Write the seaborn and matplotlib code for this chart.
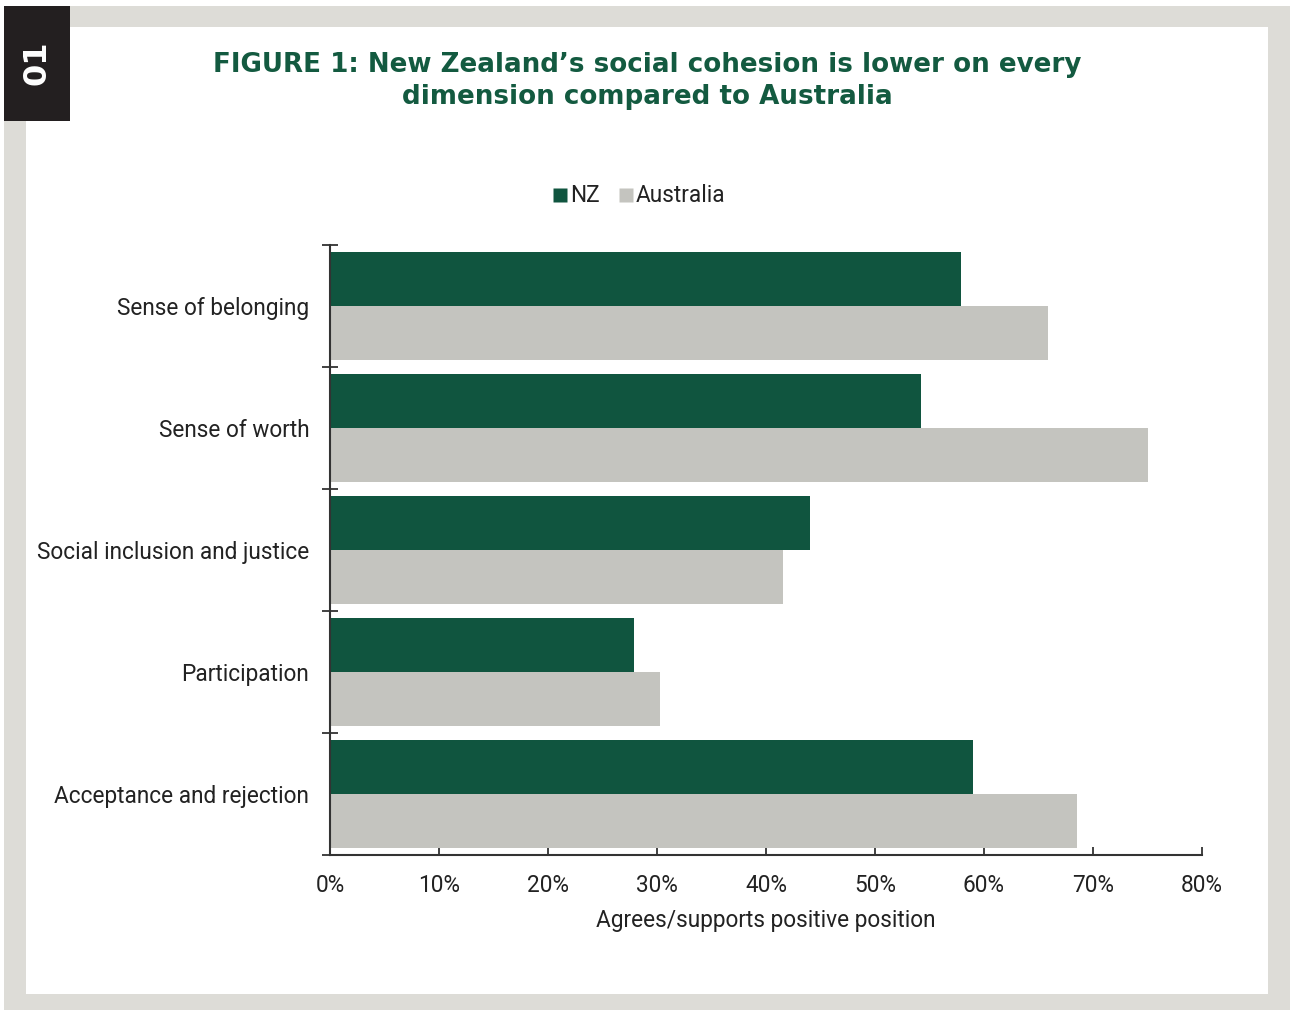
import matplotlib
matplotlib.use("Agg")
import matplotlib.pyplot as plt
from matplotlib.patches import Rectangle
from matplotlib.lines import Line2D
import pandas as pd
import seaborn as sns

categories = [
    "Sense of belonging",
    "Sense of worth",
    "Social inclusion and justice",
    "Participation",
    "Acceptance and rejection",
]
nz_values = [57.9, 54.2, 44.0, 27.9, 59.0]
australia_values = [65.9, 75.0, 41.6, 30.3, 68.5]
series_names = ["NZ", "Australia"]
x_ticks = [0, 10, 20, 30, 40, 50, 60, 70, 80]
x_tick_labels = [f"{v}%" for v in x_ticks]

title_text = ("FIGURE 1: New Zealand\u2019s social cohesion is lower on every\n"
              "dimension compared to Australia")
x_label = "Agrees/supports positive position"

GREEN = "#10553f"
GREY = "#c4c4bf"
FRAME = "#dddcd7"
TEXT = "#222222"
AXIS = "#333333"
FS = 16.3

sns.set_style("white")
plt.rcParams["font.family"] = ["Roboto", "DejaVu Sans"]

df = pd.DataFrame({
    "category": categories * 2,
    "series": [series_names[0]] * len(categories) + [series_names[1]] * len(categories),
    "value": nz_values + australia_values,
})

W, H = 1290, 1010
fig = plt.figure(figsize=(W / 100, H / 100), dpi=100, facecolor="white")

# page frame, white panel and section tab
fig.patches.append(Rectangle((4 / W, 0), 1286 / W, 1004 / H, transform=fig.transFigure,
                             facecolor=FRAME, edgecolor="none", zorder=-2))
fig.patches.append(Rectangle((26 / W, 16 / H), 1242 / W, 967 / H, transform=fig.transFigure,
                             facecolor="white", edgecolor="none", zorder=-1))
fig.patches.append(Rectangle((4 / W, 889 / H), 66 / W, 115 / H, transform=fig.transFigure,
                             facecolor="#231f20", edgecolor="none", zorder=-1))
fig.text(37 / W, 1 - 63 / H, "01", rotation=90, color="white", fontsize=23,
         fontweight="bold", ha="center", va="center", family=["DejaVu Sans"])

for line, ypix in zip(title_text.split("\n"), (65, 97)):
    fig.text(647 / W, 1 - ypix / H, line, ha="center", va="center", color="#135a40",
             fontsize=18.8, fontweight="bold", family=["DejaVu Sans"])

ax = fig.add_axes([330 / W, 1 - 855 / H, 872 / W, 610 / H])
ax.set_zorder(2)
sns.barplot(data=df, y="category", x="value", hue="series", order=categories,
            hue_order=series_names, palette=[GREEN, GREY], orient="h",
            width=0.885, saturation=1, linewidth=0, ax=ax, legend=False)

ax.set_xlim(0, 80)
ax.set_ylim(len(categories) - 0.5, -0.5)
ax.set_xticks(x_ticks)
ax.set_xticklabels(x_tick_labels, fontsize=FS, color=TEXT)
ax.set_yticks(range(len(categories)))
ax.set_yticklabels(categories, fontsize=FS, color=TEXT)
ax.set_yticks([i - 0.5 for i in range(len(categories) + 1)], minor=True)
ax.tick_params(axis="y", which="major", left=True, length=0, pad=15)
ax.tick_params(axis="y", which="minor", left=True, length=11, width=1.3,
               direction="inout", color=AXIS)
ax.tick_params(axis="x", which="major", bottom=True, length=6, width=1.3,
               direction="in", pad=14, color=AXIS)
ax.set_ylabel("")
ax.set_xlabel(x_label, fontsize=FS, color=TEXT, labelpad=8)

for side in ("top", "right"):
    ax.spines[side].set_visible(False)
for side in ("left", "bottom"):
    ax.spines[side].set_color(AXIS)
    ax.spines[side].set_linewidth(1.5)
ax.set_facecolor("none")

handles = [Line2D([], [], marker="s", linestyle="none", markersize=9.5,
                  markerfacecolor=c, markeredgecolor="none") for c in (GREEN, GREY)]
fig.legend(handles, series_names, loc="center", bbox_to_anchor=(638 / W, 1 - 196 / H),
           ncol=2, frameon=False, fontsize=FS, handletextpad=0.05, columnspacing=0.75,
           handlelength=0.8, labelcolor=TEXT)

fig.savefig("out.png", dpi=100, facecolor="white")
